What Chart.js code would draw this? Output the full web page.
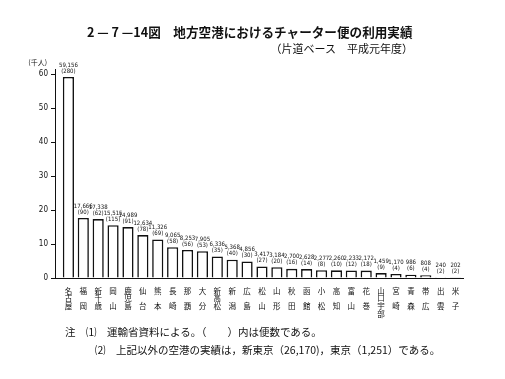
<!DOCTYPE html>
<html><head><meta charset="utf-8">
<script src="https://cdn.jsdelivr.net/npm/chart.js@4"></script>
<style>
html,body{margin:0;padding:0;background:#fff;}
#wrap{position:relative;width:505px;height:379px;overflow:hidden;background:#fff;}
canvas{position:absolute;left:0;top:0;}
.t{position:absolute;white-space:nowrap;color:#111;font-family:"Noto Sans CJK JP",sans-serif;line-height:1;}
</style></head><body>
<div id="wrap">
<canvas id="c" width="505" height="379"></canvas>
<div class="t" style="left:87px;top:26px;font-size:12.6px;font-weight:bold;">2 — 7 —14図　地方空港におけるチャーター便の利用実績</div>
<div class="t" style="right:92px;top:43px;font-size:11px;">（片道ベース　平成元年度）</div>
<div class="t" style="left:65px;top:327px;font-size:10.5px;">注　⑴　運輸省資料による。（　　）内は便数である。</div>
<div class="t" style="left:95px;top:345px;font-size:10.5px;">⑵　上記以外の空港の実績は，新東京（26,170)，東京（1,251）である。</div>
</div>
<script>
// Data
const airports = ["名古屋","福岡","新千歳","岡山","鹿児島","仙台","熊本","長崎","那覇","大分","新高松","新潟","広島","松山","山形","秋田","函館","小松","高知","富山","花巻","山口宇部","宮崎","青森","帯広","出雲","米子"];
const passengers = [59156,17666,17338,15515,14989,12634,11326,9065,8253,7905,6336,5368,4856,3417,3184,2700,2628,2277,2260,2233,2172,1459,1170,986,808,240,202];
const flights = [280,90,62,115,91,78,69,58,56,53,35,40,30,27,20,16,14,8,10,12,18,9,4,6,4,2,2];
const yTicks = [0,10,20,30,40,50,60];
const unitLabel = "(千人)";

const labels = airports.map(n => {
  const ch = Array.from(n);
  return ch.length === 2 ? [ch[0], "　", ch[1]] : ch;
});

const labelPlugin = {
  id: 'barLabels',
  afterDatasetsDraw(chart) {
    const ctx = chart.ctx;
    const meta = chart.getDatasetMeta(0);
    ctx.save();
    ctx.fillStyle = '#111';
    ctx.textAlign = 'center';
    ctx.textBaseline = 'middle';
    ctx.font = '6px "DejaVu Sans Condensed", "Liberation Sans Narrow", sans-serif';
    meta.data.forEach((bar, i) => {
      ctx.fillText(passengers[i].toLocaleString('en-US'), bar.x, bar.y - 12);
      ctx.fillText('(' + flights[i] + ')', bar.x, bar.y - 6);
    });
    const ys = chart.scales.y;
    ctx.font = '7px "Noto Sans CJK JP", sans-serif';
    ctx.textAlign = 'right';
    ctx.fillText(unitLabel, ys.right - 8, ys.top - 7);
    ctx.restore();
  }
};

new Chart(document.getElementById('c'), {
  type: 'bar',
  data: {
    datasets: [{
      data: passengers.map((v, i) => ({x: i, y: v / 1000})),
      backgroundColor: '#ffffff',
      borderColor: '#111111',
      borderWidth: 1.6,
      barPercentage: 0.75,
      categoryPercentage: 1
    }]
  },
  options: {
    responsive: false,
    animation: false,
    devicePixelRatio: 1,
    layout: {padding: {top: 69, right: 42, left: 0, bottom: 0}},
    plugins: {legend: {display: false}, tooltip: {enabled: false}, title: {display: false}},
    scales: {
      x: {
        type: 'linear', min: -0.9, max: 26.5, offset: false,
        grid: {display: false, drawTicks: false},
        border: {display: true, color: '#111', width: 1},
        ticks: {
          stepSize: 1, autoSkip: false, includeBounds: false, maxRotation: 0, minRotation: 0, padding: 9,
          color: '#111',
          font: {size: 7.5, family: '"Noto Sans CJK JP", sans-serif', lineHeight: 1.03},
          callback: v => (Number.isInteger(v) && labels[v]) ? labels[v] : ''
        },
        afterFit(s) { s.height = 101; }
      },
      y: {
        min: 0, max: 61.5,
        afterBuildTicks(s) { s.ticks = yTicks.map(v => ({value: v})); },
        ticks: {padding: 3, color: '#111', font: {size: 8, family: '"Liberation Sans Narrow", "DejaVu Sans Condensed", sans-serif'}},
        grid: {drawOnChartArea: false, drawTicks: true, tickLength: 4, color: '#111'},
        border: {color: '#111', width: 1},
        afterFit(s) { s.width = 55; }
      }
    }
  },
  plugins: [labelPlugin]
});
</script>
</body></html>
